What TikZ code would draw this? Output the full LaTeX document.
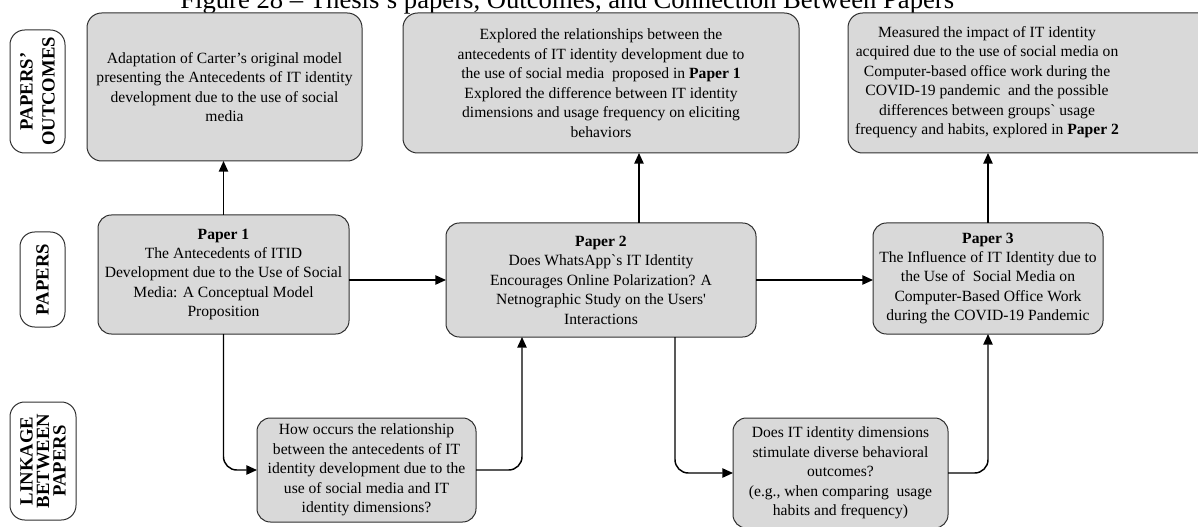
\documentclass[tikz,border=0pt]{standalone}
\usepackage{fontspec}
\setmainfont{Liberation Serif}
\newfontfamily\rawserif{Liberation Serif}[Ligatures=TeXOff]
\newcommand\grv{{\rawserif\symbol{96}}}
\usetikzlibrary{arrows.meta,calc}
\definecolor{boxfill}{HTML}{D9D9D9}
\definecolor{boxline}{HTML}{303030}
\tikzset{
  base/.style={draw=boxline, line width=0.75pt, inner sep=0pt, outer sep=0pt,
    align=center, font=\fontsize{11.7}{14.6}\selectfont},
  outcome/.style={base, fill=boxfill, rounded corners=11pt},
  paperbox/.style={base, fill=boxfill, rounded corners=10pt},
  linkbox/.style={base, fill=boxfill, rounded corners=10pt},
  plaintext/.style={inner sep=0pt, align=center, font=\fontsize{11.7}{14.6}\selectfont},
  rowlabel/.style={draw=boxline, line width=0.75pt, fill=white, rounded corners=11pt,
    inner sep=0pt, outer sep=0pt, rotate=90, align=center},
  conn/.style={line width=1.1pt, -{Triangle[length=8pt,width=7pt]}},
}
% box from corner (x1,y1) to (x2,y2), in pixel units
\newcommand\bx[7]{\node[#6, minimum width={(#4-#2)*0.75pt}, minimum height={(#5-#3)*0.75pt}]
  (#1) at ({(#2+#4)/2},{(#3+#5)/2}) {#7};}
% rotated row label box
\newcommand\lab[7]{\node[rowlabel, minimum width={(#5-#3)*0.75pt}, minimum height={(#4-#2)*0.75pt},
  font=\bfseries\fontsize{14}{#6}\selectfont]
  (#1) at ({(#2+#4)/2},{(#3+#5)/2}) {#7};}

\begin{document}
\begin{tikzpicture}[x=0.75pt, y=-0.75pt]
\useasboundingbox (0,0) rectangle (1198,527);
\clip (0,0) rectangle (1198,527);

% title
\node[anchor=base west, inner sep=0pt, font=\fontsize{20}{24}\selectfont] (title) at (180,9)
  {Figure 28 – Thesis's papers, Outcomes, and Connection Between Papers};

% row labels
\lab{labout}{10}{30}{65}{153}{16.5pt}{PAPERS’\\OUTCOMES}
\lab{labpap}{20}{232}{65}{327}{16.5pt}{PAPERS}
\lab{lablink}{10}{402}{76}{520}{12.4pt}{LINKAGE\\BETWEEN\\PAPERS}

% outcomes
\bx{out1}{87}{13}{362}{161}{outcome}{Adaptation of Carter’s original model\\presenting the Antecedents of IT identity\\development due to the use of social\\media}
\bx{out2}{403}{13}{799}{153}{outcome}{Explored the relationships between the\\antecedents of IT identity development due to\\the use of social media\ \ proposed in \textbf{Paper 1}\\Explored the difference between IT identity\\dimensions and usage frequency on eliciting\\behaviors}
\bx{out3}{848}{13}{1260}{153}{outcome}{}
\node[plaintext] (out3text) at (987,82) {Measured the impact of IT identity\\acquired due to the use of social media on\\Computer-based office work during the\\COVID-19 pandemic\ \ and the possible\\differences between groups\grv{} usage\\frequency and habits, explored in \textbf{Paper 2}};

% papers
\bx{p1}{98}{215}{349}{334}{paperbox}{\textbf{Paper 1}\\The Antecedents of ITID\\Development due to the Use of Social\\Media: A Conceptual Model\\Proposition}
\bx{p2}{446}{223}{756}{337}{paperbox}{\textbf{Paper 2}\\Does WhatsApp\grv{}s IT Identity\\Encourages Online Polarization? A\\Netnographic Study on the Users{\rawserif '}\\Interactions}
\bx{p3}{873}{223}{1103}{334}{paperbox}{\textbf{Paper 3}\\The Influence of IT Identity due to\\the Use of\ \ Social Media on\\Computer-Based Office Work\\during the COVID-19 Pandemic}

% linkage questions
\bx{l1}{257}{418}{476}{522}{linkbox}{How occurs the relationship\\between the antecedents of IT\\identity development due to the\\use of social media and IT\\identity dimensions?}
\bx{l2}{733}{418}{948}{528}{linkbox}{Does IT identity dimensions\\stimulate diverse behavioral\\outcomes?\\(e.g., when comparing\ \ usage\\habits and frequency)}

% connectors
\coordinate (p2top) at ($(p2.north)+(38,0)$);
\coordinate (p2in) at ($(p2.south)+(-79,0)$);
\coordinate (p2out) at ($(p2.south)+(74,0)$);

\draw[conn] (p1.north) -- (p1.north |- out1.south);
\draw[conn] (p2top) -- (p2top |- out2.south);
\draw[conn] (p3.north) -- (p3.north |- out3.south);
\draw[conn] (p1.east |- p2.west) -- (p2.west);
\draw[conn] (p2.east) -- (p2.east -| p3.west);
\draw[conn, rounded corners=10pt] (p1.south) |- (l1.west);
\draw[conn, rounded corners=10pt] (l1.east) -| (p2in);
\draw[conn, rounded corners=10pt] (p2out) |- (l2.west);
\draw[conn, rounded corners=10pt] (l2.east) -| (p3.south);
\end{tikzpicture}
\end{document}
